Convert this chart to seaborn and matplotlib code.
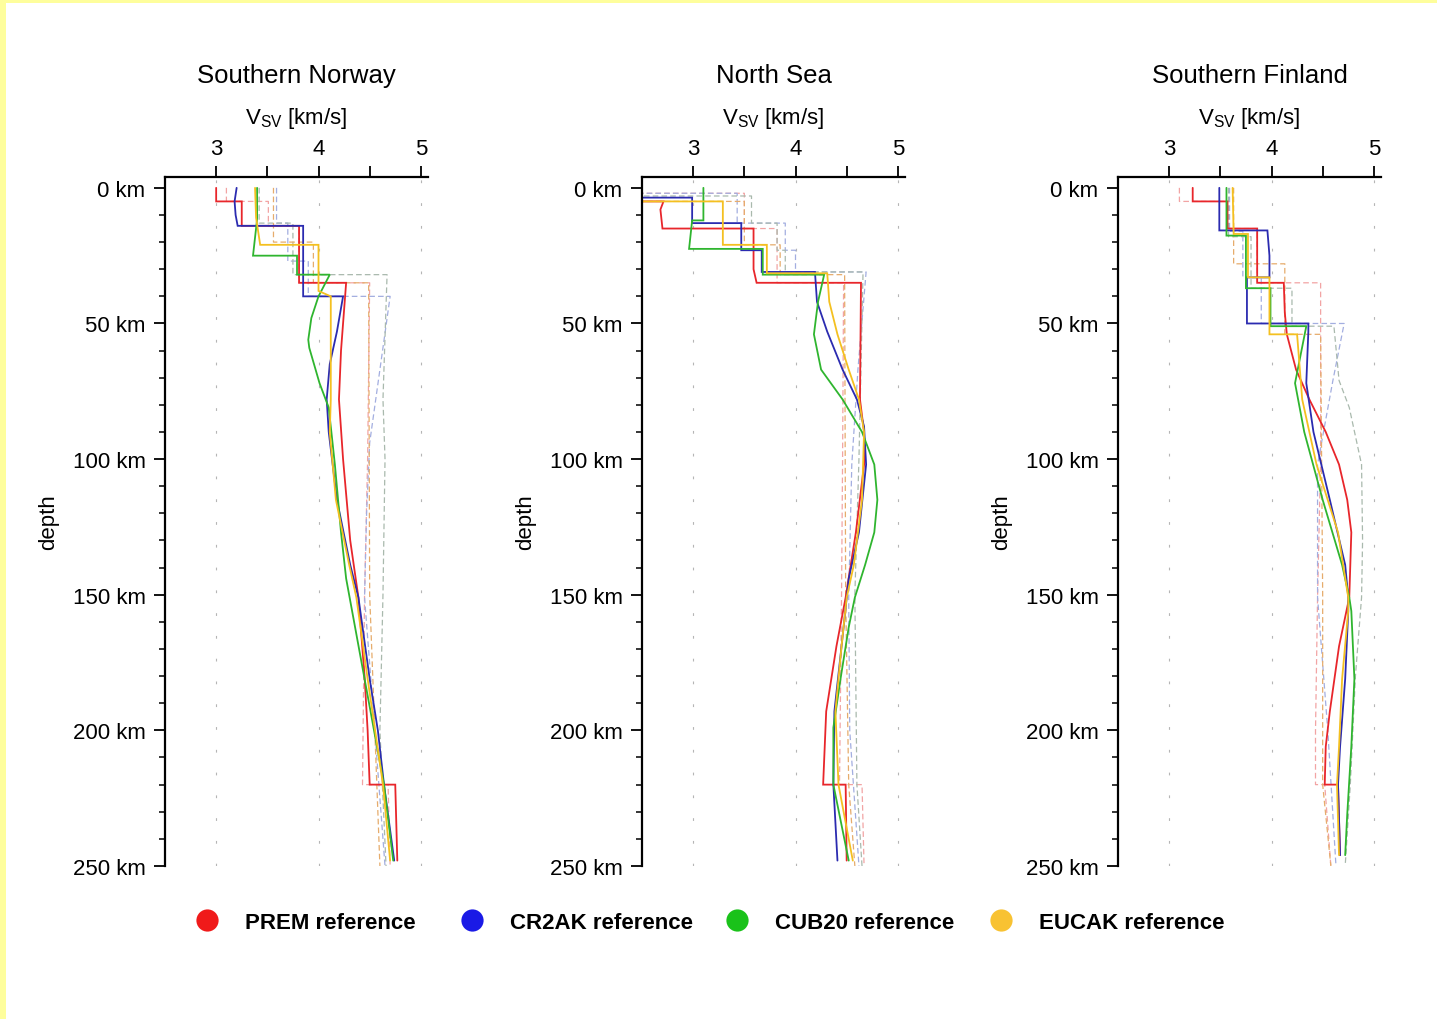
import numpy as np
import pandas as pd
import matplotlib
matplotlib.use("Agg")
import matplotlib.pyplot as plt
from matplotlib.lines import Line2D
from matplotlib.patches import Rectangle
from matplotlib.ticker import MultipleLocator, FixedLocator
import seaborn as sns

# ---------------------------------------------------------------------------
# Labels
# ---------------------------------------------------------------------------
PANEL_TITLES = ["Southern Norway", "North Sea", "Southern Finland"]
MODELS = ["PREM", "CR2AK", "CUB20", "EUCAK"]
LEGEND_LABELS = ["PREM reference", "CR2AK reference", "CUB20 reference", "EUCAK reference"]
X_TICKS = [3, 4, 5]
X_MINOR_TICKS = [3.5, 4.5]
DEPTH_TICKS = [0, 50, 100, 150, 200, 250]

# ---------------------------------------------------------------------------
# Southern Norway: inverted Vsv profiles (depth km, Vsv km/s)
# ---------------------------------------------------------------------------
NOR_PREM_Z = [0, 5, 5, 14, 14, 35, 35, 45, 60, 78, 100, 130, 151, 180, 200, 220, 220, 248]
NOR_PREM_V = [3.00, 3.00, 3.25, 3.25, 3.81, 3.81, 4.27, 4.25, 4.22, 4.20, 4.24, 4.31, 4.39, 4.45, 4.48, 4.50, 4.75, 4.77]
NOR_CR2AK_Z = [0, 5, 10, 14, 14, 40, 40, 53, 65, 78, 90, 115, 139, 151, 181, 200, 220, 248]
NOR_CR2AK_V = [3.20, 3.18, 3.19, 3.21, 3.85, 3.85, 4.24, 4.18, 4.11, 4.08, 4.10, 4.18, 4.31, 4.39, 4.50, 4.58, 4.64, 4.74]
NOR_CUB20_Z = [0, 11.5, 25, 25, 32, 32, 40, 48, 56, 59, 72, 81, 102, 127, 144, 181, 220, 248]
NOR_CUB20_V = [3.40, 3.40, 3.36, 3.79, 3.79, 4.11, 4.00, 3.93, 3.90, 3.91, 4.01, 4.10, 4.16, 4.22, 4.27, 4.45, 4.64, 4.73]
NOR_EUCAK_Z = [0, 11, 21, 21, 38, 40, 78, 90, 115, 139, 151, 181, 220, 248]
NOR_EUCAK_V = [3.38, 3.39, 3.43, 4.00, 4.00, 4.12, 4.12, 4.11, 4.17, 4.30, 4.37, 4.48, 4.63, 4.70]

# Southern Norway: starting reference models
NOR_PREM_REF_Z = [0, 5, 5, 14, 14, 35, 35, 100, 150, 220, 220, 250]
NOR_PREM_REF_V = [3.10, 3.10, 3.51, 3.51, 3.81, 3.81, 4.50, 4.48, 4.45, 4.43, 4.68, 4.70]
NOR_CR2AK_REF_Z = [0, 13, 13, 27, 27, 40, 40, 67, 94, 120, 151, 200, 250]
NOR_CR2AK_REF_V = [3.59, 3.59, 3.70, 3.70, 3.90, 3.90, 4.70, 4.60, 4.50, 4.47, 4.45, 4.55, 4.65]
NOR_CUB20_REF_Z = [0, 13, 13, 32, 32, 78, 100, 150, 200, 250]
NOR_CUB20_REF_V = [3.42, 3.42, 3.75, 3.75, 4.67, 4.63, 4.65, 4.63, 4.60, 4.66]
NOR_EUCAK_REF_Z = [0, 20, 20, 35, 35, 150, 200, 250]
NOR_EUCAK_REF_V = [3.56, 3.56, 3.95, 3.95, 4.49, 4.50, 4.55, 4.60]

# ---------------------------------------------------------------------------
# North Sea (water layer at the top carries Vs below the plotted range)
# ---------------------------------------------------------------------------
NSE_PREM_Z = [0, 5, 5, 8, 15, 15, 30, 35, 35, 78, 90, 102, 127, 151, 169, 193, 220, 220, 248]
NSE_PREM_V = [2.0, 2.0, 2.71, 2.68, 2.70, 3.59, 3.59, 3.62, 4.64, 4.63, 4.67, 4.67, 4.59, 4.49, 4.40, 4.30, 4.27, 4.49, 4.50]
NSE_CR2AK_Z = [0, 3.6, 3.6, 13, 13, 23, 23, 31, 31, 42, 53, 67, 78, 88, 102, 127, 144, 169, 193, 220, 248]
NSE_CR2AK_V = [2.0, 2.0, 2.99, 2.99, 3.47, 3.47, 3.67, 3.67, 4.19, 4.21, 4.31, 4.46, 4.60, 4.67, 4.69, 4.62, 4.52, 4.45, 4.38, 4.37, 4.41]
NSE_CUB20_Z = [0, 12, 12, 22.5, 22.5, 32, 32, 42, 54, 67, 78, 90, 102, 115, 127, 139, 151, 162, 181, 199, 220, 248]
NSE_CUB20_V = [3.10, 3.10, 2.99, 2.96, 3.68, 3.68, 4.28, 4.22, 4.18, 4.25, 4.46, 4.65, 4.77, 4.80, 4.77, 4.68, 4.58, 4.52, 4.44, 4.37, 4.37, 4.52]
NSE_EUCAK_Z = [0, 5, 5, 21, 21, 31.5, 31.5, 42, 54, 67, 78, 90, 115, 139, 151, 169, 193, 220, 248]
NSE_EUCAK_V = [2.0, 2.0, 3.29, 3.29, 3.72, 3.72, 4.31, 4.33, 4.41, 4.52, 4.62, 4.67, 4.65, 4.57, 4.50, 4.45, 4.39, 4.42, 4.56]

NSE_PREM_REF_Z = [0, 2, 2, 15, 15, 35, 35, 100, 150, 220, 220, 250]
NSE_PREM_REF_V = [2.0, 2.0, 3.50, 3.50, 3.82, 3.82, 4.47, 4.46, 4.45, 4.43, 4.65, 4.67]
NSE_CR2AK_REF_Z = [0, 2, 2, 13, 13, 23, 23, 31, 31, 67, 102, 151, 200, 250]
NSE_CR2AK_REF_V = [2.0, 2.0, 3.43, 3.43, 3.90, 3.90, 4.00, 4.00, 4.69, 4.61, 4.55, 4.52, 4.53, 4.62]
NSE_CUB20_REF_Z = [0, 3, 3, 13, 13, 23, 23, 31, 31, 100, 150, 220, 250]
NSE_CUB20_REF_V = [2.0, 2.0, 3.57, 3.57, 3.82, 3.82, 3.90, 3.90, 4.66, 4.62, 4.58, 4.60, 4.65]
NSE_EUCAK_REF_Z = [0, 5, 5, 21, 21, 32, 32, 150, 220, 250]
NSE_EUCAK_REF_V = [2.0, 2.0, 3.50, 3.50, 3.85, 3.85, 4.48, 4.49, 4.52, 4.58]

# ---------------------------------------------------------------------------
# Southern Finland
# ---------------------------------------------------------------------------
SFI_PREM_Z = [0, 5, 5, 15, 15, 35, 35, 46, 54, 67, 78, 90, 102, 115, 127, 151, 169, 193, 206, 220, 220, 246]
SFI_PREM_V = [3.23, 3.23, 3.57, 3.57, 3.86, 3.86, 4.12, 4.13, 4.15, 4.24, 4.37, 4.53, 4.66, 4.74, 4.78, 4.76, 4.66, 4.57, 4.53, 4.52, 4.65, 4.67]
SFI_CR2AK_Z = [0, 15.7, 15.7, 25, 33, 33, 50, 50, 53, 72, 90, 115, 139, 151, 156, 181, 206, 220, 246]
SFI_CR2AK_V = [3.49, 3.49, 3.96, 3.98, 3.98, 3.76, 3.76, 4.36, 4.36, 4.34, 4.41, 4.57, 4.72, 4.75, 4.75, 4.72, 4.67, 4.65, 4.67]
SFI_CUB20_Z = [0, 17.6, 17.6, 37, 37, 51, 51, 72, 90, 115, 139, 151, 156, 181, 206, 231, 246]
SFI_CUB20_V = [3.56, 3.56, 3.75, 3.75, 3.99, 3.99, 4.34, 4.23, 4.32, 4.50, 4.69, 4.76, 4.78, 4.81, 4.78, 4.74, 4.72]
SFI_EUCAK_Z = [0, 17, 17, 33, 33, 54, 54, 78, 102, 127, 151, 156, 181, 206, 220, 246]
SFI_EUCAK_V = [3.62, 3.63, 3.77, 3.77, 3.98, 3.98, 4.25, 4.30, 4.44, 4.65, 4.75, 4.75, 4.69, 4.66, 4.64, 4.66]

SFI_PREM_REF_Z = [0, 5, 5, 15, 15, 35, 35, 100, 151, 200, 220, 220, 250]
SFI_PREM_REF_V = [3.10, 3.10, 3.57, 3.57, 3.86, 3.86, 4.48, 4.48, 4.45, 4.43, 4.43, 4.52, 4.58]
SFI_CR2AK_REF_Z = [0, 16, 16, 33, 33, 50, 50, 71, 102, 151, 200, 250]
SFI_CR2AK_REF_V = [3.59, 3.59, 3.72, 3.72, 3.90, 3.90, 4.71, 4.60, 4.45, 4.45, 4.55, 4.63]
SFI_CUB20_REF_Z = [0, 18, 18, 37, 37, 51, 51, 71, 81, 102, 130, 151, 180, 220, 250]
SFI_CUB20_REF_V = [3.58, 3.58, 3.80, 3.80, 4.20, 4.20, 4.61, 4.66, 4.76, 4.88, 4.89, 4.88, 4.82, 4.77, 4.72]
SFI_EUCAK_REF_Z = [0, 28, 28, 54, 54, 150, 220, 250]
SFI_EUCAK_REF_V = [3.63, 3.63, 4.13, 4.13, 4.48, 4.50, 4.50, 4.58]

# ---------------------------------------------------------------------------
# Long-form table
# ---------------------------------------------------------------------------
profiles = {
    ("Southern Norway", "PREM"): (NOR_PREM_Z, NOR_PREM_V, NOR_PREM_REF_Z, NOR_PREM_REF_V),
    ("Southern Norway", "CR2AK"): (NOR_CR2AK_Z, NOR_CR2AK_V, NOR_CR2AK_REF_Z, NOR_CR2AK_REF_V),
    ("Southern Norway", "CUB20"): (NOR_CUB20_Z, NOR_CUB20_V, NOR_CUB20_REF_Z, NOR_CUB20_REF_V),
    ("Southern Norway", "EUCAK"): (NOR_EUCAK_Z, NOR_EUCAK_V, NOR_EUCAK_REF_Z, NOR_EUCAK_REF_V),
    ("North Sea", "PREM"): (NSE_PREM_Z, NSE_PREM_V, NSE_PREM_REF_Z, NSE_PREM_REF_V),
    ("North Sea", "CR2AK"): (NSE_CR2AK_Z, NSE_CR2AK_V, NSE_CR2AK_REF_Z, NSE_CR2AK_REF_V),
    ("North Sea", "CUB20"): (NSE_CUB20_Z, NSE_CUB20_V, NSE_CUB20_REF_Z, NSE_CUB20_REF_V),
    ("North Sea", "EUCAK"): (NSE_EUCAK_Z, NSE_EUCAK_V, NSE_EUCAK_REF_Z, NSE_EUCAK_REF_V),
    ("Southern Finland", "PREM"): (SFI_PREM_Z, SFI_PREM_V, SFI_PREM_REF_Z, SFI_PREM_REF_V),
    ("Southern Finland", "CR2AK"): (SFI_CR2AK_Z, SFI_CR2AK_V, SFI_CR2AK_REF_Z, SFI_CR2AK_REF_V),
    ("Southern Finland", "CUB20"): (SFI_CUB20_Z, SFI_CUB20_V, SFI_CUB20_REF_Z, SFI_CUB20_REF_V),
    ("Southern Finland", "EUCAK"): (SFI_EUCAK_Z, SFI_EUCAK_V, SFI_EUCAK_REF_Z, SFI_EUCAK_REF_V),
}

rows = []
for (region, model), (z_fin, v_fin, z_ref, v_ref) in profiles.items():
    for kind, zs, vs in (("reference", z_ref, v_ref), ("final", z_fin, v_fin)):
        for i, (z, v) in enumerate(zip(zs, vs)):
            rows.append({"region": region, "curve": f"{model} {kind}", "kind": kind,
                         "step": i, "depth": z, "vsv": v})
df = pd.DataFrame(rows)

# ---------------------------------------------------------------------------
# Styling
# ---------------------------------------------------------------------------
FINAL_COLORS = {"PREM": "#e8262b", "CR2AK": "#2b2bb0", "CUB20": "#2fb52f", "EUCAK": "#f4c020"}
REF_COLORS = {"PREM": "#f2a4a4", "CR2AK": "#a3aee0", "CUB20": "#a9b9ad", "EUCAK": "#e6ac6c"}
LEGEND_COLORS = ["#f01a1a", "#1a1ae6", "#1ac21a", "#f8c232"]

palette = {}
for m in MODELS:
    palette[f"{m} final"] = FINAL_COLORS[m]
    palette[f"{m} reference"] = REF_COLORS[m]
hue_order = [f"{m} reference" for m in MODELS] + [f"{m} final" for m in MODELS]

sns.set_theme(style="ticks")
plt.rcParams["font.family"] = ["Liberation Sans", "DejaVu Sans"]
plt.rcParams["mathtext.fontset"] = "custom"
plt.rcParams["mathtext.rm"] = "Liberation Sans"
plt.rcParams["mathtext.it"] = "Liberation Sans:italic"
for key in ("text.color", "axes.labelcolor", "xtick.color", "ytick.color",
            "xtick.labelcolor", "ytick.labelcolor", "axes.titlecolor"):
    plt.rcParams[key] = "black"

W, H = 1437, 1020
fig = plt.figure(figsize=(W / 100, H / 100), dpi=100)
fig.patch.set_facecolor("white")

axes_left_px = [165, 642, 1118]
ax_w = 263 / W
ax_b = (H - 867) / H
ax_h = (867 - 178) / H

for left_px, region in zip(axes_left_px, PANEL_TITLES):
    ax = fig.add_axes([left_px / W, ax_b, ax_w, ax_h])
    sub = df[df["region"] == region]
    sns.lineplot(
        data=sub, x="vsv", y="depth", hue="curve", hue_order=hue_order,
        palette=palette, style="kind", style_order=["final", "reference"],
        dashes={"final": "", "reference": (4.5, 2.5)},
        size="kind", sizes={"final": 1.3, "reference": 0.9},
        units="curve", estimator=None, sort=False, legend=False, ax=ax,
    )
    for line in ax.lines:
        line.set_solid_joinstyle("miter")

    ax.set_xlim(2.5, 5.07)
    ax.set_ylim(250, -4)

    # vertical guide lines at the labelled velocities
    for xv in X_TICKS:
        ax.axvline(xv, color="#b5b5b5", lw=0.8, linestyle=(0, (2.5, 18)), zorder=0)

    ax.xaxis.tick_top()
    ax.xaxis.set_label_position("top")
    ax.set_xticks(X_TICKS)
    ax.set_xticklabels([str(t) for t in X_TICKS])
    ax.xaxis.set_minor_locator(FixedLocator(X_MINOR_TICKS))
    ax.set_yticks(DEPTH_TICKS)
    ax.set_yticklabels([f"{d} km" for d in DEPTH_TICKS])
    ax.yaxis.set_minor_locator(MultipleLocator(10))

    ax.tick_params(axis="x", which="both", top=True, bottom=False, labeltop=True,
                   labelbottom=False, length=8, width=1.3, direction="out",
                   pad=5, labelsize=16, color="black", labelcolor="black")
    ax.tick_params(axis="y", which="major", left=True, length=8, width=1.3,
                   direction="out", pad=6, labelsize=16, color="black", labelcolor="black")
    ax.tick_params(axis="y", which="minor", left=True, length=4, width=1.1,
                   direction="out", color="black")

    for side in ("right", "bottom"):
        ax.spines[side].set_visible(False)
    for side in ("top", "left"):
        ax.spines[side].set_visible(True)
        ax.spines[side].set_linewidth(1.6)
        ax.spines[side].set_color("black")

    ax.set_xlabel(r"V$_{\mathrm{SV}}$ [km/s]", fontsize=16, labelpad=10.5)
    ax.set_ylabel("depth", fontsize=16, labelpad=10)
    ax.set_title(region, fontsize=18.5, pad=17)
    ax.set_facecolor("white")

# legend of starting models: evenly spaced entries along the bottom
LEGEND_MARKER_X_PX = [207, 472, 737, 1001]
for x_px, color, label in zip(LEGEND_MARKER_X_PX, LEGEND_COLORS, LEGEND_LABELS):
    handle = Line2D([], [], marker="o", ls="", ms=16, color=color, markeredgewidth=0)
    leg = fig.legend([handle], [label], loc="center left",
                     bbox_to_anchor=((x_px - 11) / W, 0.095),
                     frameon=False, prop={"weight": "bold", "size": 16},
                     handlelength=1.0, handletextpad=1.2,
                     borderpad=0, borderaxespad=0)

# thin pale-yellow frame on the top and left edges
fig.patches.append(Rectangle((0, 0), 6 / W, 1, transform=fig.transFigure,
                             facecolor="#fefe9c", edgecolor="none", zorder=10))
fig.patches.append(Rectangle((0, 1 - 3.5 / H), 1, 3.5 / H, transform=fig.transFigure,
                             facecolor="#fefe9c", edgecolor="none", zorder=10))

fig.savefig("out.png", dpi=100)
